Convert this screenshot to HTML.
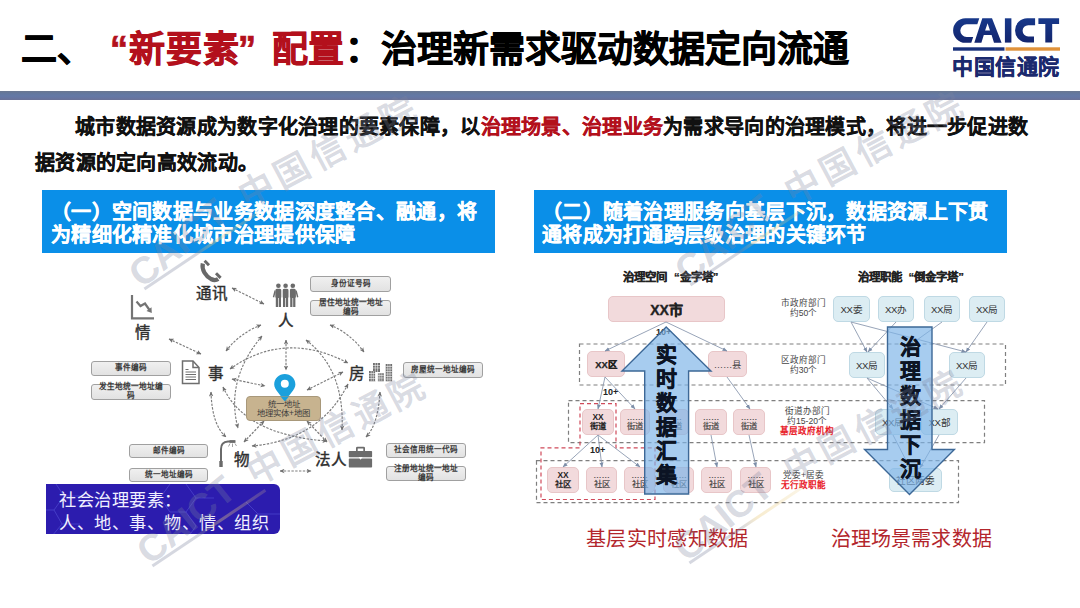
<!DOCTYPE html>
<html lang="zh-CN"><head><meta charset="utf-8">
<style>
*{margin:0;padding:0;box-sizing:border-box}
html,body{width:1080px;height:608px;overflow:hidden;background:#fff}
body{position:relative;font-family:"Liberation Sans",sans-serif;color:#111}
.a{position:absolute;white-space:nowrap}
.red,.t.red{color:#b3101c}
.t{position:absolute;white-space:nowrap;font-size:36px;font-weight:bold;line-height:44px;top:28px;color:#000;-webkit-text-stroke:0.7px currentColor}
#bar{left:0;top:91px;width:1080px;height:8.5px;background:linear-gradient(#6a7890 0%,#64789f 30%,#6479a6 55%,#6775a0 80%,#6b7296 100%)}
.p{position:absolute;white-space:nowrap;font-size:20px;letter-spacing:0.28px;font-weight:bold;line-height:36px;color:#111;-webkit-text-stroke:0.35px currentColor}
.hdr{position:absolute;top:190px;height:63px;background:#0a8fe8;color:#fff;font-weight:bold;font-size:20px;letter-spacing:0.3px;line-height:22.5px;padding-top:11px;white-space:nowrap;-webkit-text-stroke:0.3px #fff}
</style></head>
<body>
<!-- title -->
<div class="t" style="left:21px">二、</div>
<div class="t red" style="left:110px">“</div>
<div class="t red" style="left:129px;letter-spacing:1px">新要素</div>
<div class="t red" style="left:238px">”</div>
<div class="t red" style="left:272px">配置</div>
<div class="t" style="left:345px">：</div>
<div class="t" style="left:381px">治理新需求驱动数据定向流通</div>

<!-- logo -->
<svg class="a" style="left:0;top:0" width="1080" height="100" viewBox="0 0 1080 100">
<defs><linearGradient id="lg" x1="0" y1="0" x2="0" y2="1"><stop offset="0" stop-color="#17388a"/><stop offset="1" stop-color="#13256e"/></linearGradient></defs>
<g fill="url(#lg)" fill-rule="evenodd">
<path d="M979.3,18.2 H965.4 A12.3,12.3 0 0 0 965.4,42.8 H971.3 L973.2,36.9 H966.6 A6.3,6.3 0 0 1 966.6,24.3 H977.3 Z"/>
<path d="M974.3,42.8 L982.3,18.2 H992 L1001.6,42.8 H994 L991.6,35 H983.8 L981.4,42.8 Z M985.1,30.6 H990 L987.6,23.2 Z"/>
<rect x="1004.9" y="18.3" width="6.5" height="24.3"/>
<path d="M1035.1,18.3 H1027.2 A12.15,12.15 0 0 0 1027.2,42.6 H1034 V36.4 H1028.2 A5.6,5.6 0 0 1 1028.2,25.2 H1035.1 Z"/>
<path d="M1038.4,18.3 H1059.1 V23.9 H1052.2 V42.6 H1045.3 V23.9 H1038.4 Z"/>
</g>
<rect x="953" y="47.3" width="51.5" height="3.4" fill="#17307a"/>
<rect x="1005.5" y="47.3" width="54.5" height="3.4" fill="#e0923a"/>
</svg>
<div class="a" style="left:952px;top:54px;font-size:21px;font-weight:bold;color:#1b2a6e;line-height:26px;letter-spacing:0.5px;-webkit-text-stroke:0.4px #1b2a6e">中国信通院</div>

<div id="bar" class="a"></div>

<div class="p" style="left:75px;top:109px">城市数据资源成为数字化治理的要素保障，以<span class="red">治理场景、治理业务</span>为需求导向的治理模式，将进一步促进数</div>
<div class="p" style="left:35px;top:145px">据资源的定向高效流动。</div>

<div class="hdr" style="left:42px;width:453px;padding-left:9px">（一）空间数据与业务数据深度整合、融通，将<br>为精细化精准化城市治理提供保障</div>
<div class="hdr" style="left:534px;width:473px;padding-left:8px">（二）随着治理服务向基层下沉，数据资源上下贯<br>通将成为打通跨层级治理的关键环节</div>

<!-- ============ LEFT DIAGRAM ============ -->
<style>
.gb{position:absolute;background:linear-gradient(#f0f0f0,#e2e2e2);border:1.2px solid #a0a0a0;border-radius:3px;font-size:7.6px;line-height:8.6px;color:#3a3a3a;font-weight:bold;text-align:center;display:flex;align-items:center;justify-content:center;white-space:normal}
.nd{position:absolute;white-space:nowrap;font-size:15.5px;font-weight:normal;color:#2e2e2e;line-height:16px;-webkit-text-stroke:0.4px #2e2e2e}
</style>
<div class="gb" style="left:310px;top:276px;width:81px;height:16px">身份证号码</div>
<div class="gb" style="left:310px;top:300px;width:81px;height:16px;">居住地址统一地址<br>编码</div>
<div class="gb" style="left:403px;top:362px;width:80px;height:16px">房屋统一地址编码</div>
<div class="gb" style="left:91px;top:361px;width:80px;height:15px">事件编码</div>
<div class="gb" style="left:91px;top:384px;width:80px;height:16px;">发生地统一地址编<br>码</div>
<div class="gb" style="left:129px;top:444px;width:79px;height:14px">邮件编码</div>
<div class="gb" style="left:129px;top:468px;width:79px;height:14px">统一地址编码</div>
<div class="gb" style="left:386px;top:443px;width:80px;height:15px">社会信用统一代码</div>
<div class="gb" style="left:386px;top:466px;width:80px;height:15px;">注册地址统一地址<br>编码</div>

<div class="nd" style="left:195.7px;top:285.5px">通讯</div>
<div class="nd" style="left:277.7px;top:312.5px">人</div>
<div class="nd" style="left:134.7px;top:324.5px">情</div>
<div class="nd" style="left:207.7px;top:365.5px">事</div>
<div class="nd" style="left:348.7px;top:365.5px">房</div>
<div class="nd" style="left:233.7px;top:451.5px">物</div>
<div class="nd" style="left:314.7px;top:451.5px">法人</div>

<svg class="a" style="left:0;top:0" width="1080" height="608" viewBox="0 0 1080 608">
<defs>
<marker id="ah" viewBox="0 0 10 10" refX="9" refY="5" markerWidth="5" markerHeight="5" orient="auto-start-reverse" markerUnits="userSpaceOnUse">
<path d="M0,0.5 L10,5 L0,9.5 L2.5,5 Z" fill="#707070"/>
</marker>
</defs>
<g fill="none" stroke="#7c7c7c" stroke-width="1.15" stroke-dasharray="2.4 1.4" marker-start="url(#ah)" marker-end="url(#ah)">
<path d="M232,288 L264,304"/>
<path d="M169,339 L201,354"/>
<path d="M226,351 Q240,333 261,325"/>
<path d="M330,325 Q350,333 364,352"/>
<path d="M286,340 L286,370"/>
<path d="M232,379 L265,386"/>
<path d="M343,372 L307,390"/>
<path d="M264,421 L244,442"/>
<path d="M307,421 L327,442"/>
<path d="M211,392 Q212,425 226,437"/>
<path d="M380,392 Q378,425 366,437"/>
<path d="M280,471 L311,471"/>
<path d="M230,369 Q285,330 348,363"/>
<path d="M262,336 Q225,380 238,428"/>
<path d="M306,340 Q345,370 342,430"/>
<path d="M223,387 Q245,435 327,441"/>
<path d="M348,384 Q320,440 252,446"/>
</g>
<!-- phone -->
<g fill="none" stroke="#686868">
<path d="M202.8,263.5 C201.5,270 205.5,276 211,279 C213.8,280.4 216.2,280.3 218.2,279" stroke-width="4.2"/>
<path d="M204.6,260.8 L209,265.2" stroke-width="3"/>
<path d="M216,273.3 L220.6,277.9" stroke-width="3"/>
</g>
<!-- people -->
<g fill="#6b6b6b">
<circle cx="278.4" cy="285.7" r="2.3"/>
<path d="M275.29999999999995,297.6 V290.6 Q275.29999999999995,288.7 277.0,288.7 H279.79999999999995 Q281.5,288.7 281.5,290.6 V297.6 H281.0 V307 H278.75 V298 H278.04999999999995 V307 H275.79999999999995 V297.6 Z"/>
<circle cx="285.6" cy="285.7" r="2.3"/>
<path d="M282.5,297.6 V290.6 Q282.5,288.7 284.20000000000005,288.7 H287.0 Q288.70000000000005,288.7 288.70000000000005,290.6 V297.6 H288.20000000000005 V307 H285.95000000000005 V298 H285.25 V307 H283.0 V297.6 Z"/>
<circle cx="292.8" cy="285.7" r="2.3"/>
<path d="M289.7,297.6 V290.6 Q289.7,288.7 291.40000000000003,288.7 H294.2 Q295.90000000000003,288.7 295.90000000000003,290.6 V297.6 H295.40000000000003 V307 H293.15000000000003 V298 H292.45 V307 H290.2 V297.6 Z"/>
<path d="M274.6,290 L272.8,297 L274.2,297.4 L275.6,292 Z"/>
<path d="M296.6,290 L298.4,297 L297,297.4 L295.6,292 Z"/>
</g>
<g stroke="#fff" stroke-width="0.9"><path d="M282,288.5 V307.5 M289.2,288.5 V307.5"/></g>
<!-- chart -->
<g fill="none" stroke="#747474" stroke-width="2.2">
<path d="M132,295 V318.3 H154"/>
<path d="M136.5,301.5 L140.5,306 L145,303.5 L149.5,310"/>
</g>
<path d="M146.5,311 L151.8,313 L151.5,307.3 Z" fill="#747474"/>
<!-- document -->
<g fill="none" stroke="#6e6e6e" stroke-width="1.5">
<path d="M182.5,361 H193 L199,367.5 V383.5 H182.5 Z"/>
<path d="M193,361 V367.5 H199"/>
</g>
<g stroke="#6e6e6e" stroke-width="1">
<path d="M185.5,369.5 H188.5 M185.5,372 H196 M185.5,374.5 H196 M185.5,377 H196 M185.5,379.5 H196"/>
</g>
<!-- buildings -->
<g fill="#707070">
<rect x="373" y="363" width="7" height="9"/>
<rect x="369" y="371" width="6.5" height="10.3"/>
<rect x="377.8" y="373.2" width="6" height="8.1"/>
<rect x="385.7" y="364" width="6.4" height="17.3"/>
</g>
<g stroke="#fff" stroke-width="0.55" fill="none">
<path d="M369,373.5 H375.5 M369,376 H375.5 M369,378.5 H375.5 M371.2,371 V381.3 M373.3,371 V381.3"/>
<path d="M373,365.5 H380 M373,368 H380 M375.3,363 V372 M377.6,363 V372"/>
<path d="M377.8,375.5 H383.8 M377.8,378 H383.8 M379.8,373.2 V381.3 M381.8,373.2 V381.3"/>
<path d="M385.7,366.5 H392.1 M385.7,369 H392.1 M385.7,371.5 H392.1 M385.7,374 H392.1 M385.7,376.5 H392.1 M385.7,379 H392.1 M387.8,364 V381.3 M390,364 V381.3"/>
</g>
<path d="M375.5,372 V381.3 M377.8,372 V381.3" stroke="#fff" stroke-width="0.8"/>
<!-- lamp -->
<g fill="none" stroke="#6a6a6a" stroke-width="2">
<path d="M221,465 V449 Q221,442 228,441.5 H235"/>
</g>
<rect x="219.3" y="461" width="3.4" height="6" fill="#6a6a6a"/>
<rect x="229.5" y="440.2" width="6" height="2.6" fill="#6a6a6a"/>
<g stroke="#8a8a8a" stroke-width="0.8"><path d="M230,443.5 L228.5,446.5 M232.5,443.5 V447 M235,443.5 L236.5,446"/></g>
<!-- briefcase -->
<g fill="#6c6c6c">
<path d="M356,451 V448 Q356,446.8 357.5,446.8 H363.5 Q365,446.8 365,448 V451 H363.3 V448.6 H357.7 V451 Z"/>
<rect x="348.8" y="451" width="23.3" height="6.2" rx="0.8"/>
<rect x="348.8" y="458.6" width="23.3" height="9" rx="0.8"/>
</g>
<path d="M358.6,457 h4 l-2,2.8 z" fill="#fff"/>
<!-- pin -->
<path d="M284.8,401.3 C281,395 274.2,390 274.2,384.5 C274.2,378.5 279,374 284.8,374 C290.6,374 295.4,378.5 295.4,384.5 C295.4,390 288.6,395 284.8,401.3 Z" fill="#1ba0dc"/>
<circle cx="284.8" cy="383.8" r="4" fill="#fff"/>
</svg>

<!-- centre brown box (above pin tail) -->
<div class="a" style="left:246px;top:396px;width:75px;height:25px;background:#c7b38f;border:1px solid #a8987a;border-radius:4px;font-size:8.4px;line-height:9.6px;color:#3c3c3c;text-align:center;padding-top:2.5px;white-space:normal">统一地址<br>地理实体+地图</div>
<svg class="a" style="left:0;top:0" width="1080" height="608" viewBox="0 0 1080 608">
<path d="M280.5,396.5 L289,396.5 L284.8,401.5 Z" fill="#1ba0dc"/>
</svg>

<!-- blue element box -->
<div class="a" style="left:46px;top:484px;width:234px;height:50px;background:#2c1cae;border-radius:0 6px 6px 0;overflow:hidden">
<svg width="234" height="50" style="position:absolute;left:0;top:0" fill="none" stroke="#4a44cc" stroke-width="0.8">
<path d="M10,0 L18,12 L8,26 L-6,26 M18,12 L36,12 M8,26 L16,40 L6,52 M16,40 L34,40"/>
<path d="M140,0 L150,14 L140,28 L124,28 L114,14 L124,0 M150,14 L168,14 M140,28 L150,42 L140,56"/>
<path d="M200,18 L212,30 L204,46 M212,30 L234,30"/>
</svg>
<div style="position:absolute;left:13px;top:4.5px;font-size:17.2px;line-height:23.3px;color:#f0f0ff;white-space:nowrap;letter-spacing:0.55px">社会治理要素：<br>人、地、事、物、情、组织</div>
</div>

<!-- ============ RIGHT DIAGRAM ============ -->
<style>
.pk{position:absolute;background:#f2dadc;border:1px solid #e8c6c8;border-radius:5px;color:#222;text-align:center;display:flex;align-items:center;justify-content:center;white-space:normal}
.bl{position:absolute;background:#dcedf3;border:1px solid #bfd9e4;border-radius:5px;color:#333;text-align:center;display:flex;align-items:center;justify-content:center;white-space:nowrap;font-size:9.6px;letter-spacing:-0.2px}
.sm{font-size:8.4px;line-height:9.5px}
.st{top:270px;font-size:11.4px;font-weight:bold;color:#222;line-height:14px;-webkit-text-stroke:0.25px #222}
.lb{position:absolute;white-space:nowrap;font-size:8.6px;line-height:9.9px;color:#444;text-align:center}
</style>
<div class="a st" style="left:623px">治理空间</div><div class="a st" style="left:674px">“金字塔”</div>
<div class="a st" style="left:857.5px">治理职能</div><div class="a st" style="left:908.5px">“倒金字塔”</div>

<svg class="a" style="left:0;top:0" width="1080" height="608" viewBox="0 0 1080 608">
<g fill="none" stroke="#7f7f7f" stroke-width="1.2" stroke-dasharray="4 3">
<rect x="579.5" y="344" width="426" height="41"/>
<rect x="568.5" y="400.7" width="416" height="42"/>
<rect x="536.5" y="460.7" width="422" height="42"/>
</g>
<path d="M580,403.6 H616 V447.9 H655 V499.5 H541 V447.9 H580 Z" fill="none" stroke="#d04a5a" stroke-width="1.2" stroke-dasharray="4 3"/>
</svg>

<div class="pk" style="left:608px;top:296px;width:117px;height:26px;font-size:14px;font-weight:bold;-webkit-text-stroke:0.4px #222">XX市</div>
<div class="pk" style="left:587px;top:351px;width:38px;height:26px;font-size:9.4px;font-weight:bold;-webkit-text-stroke:0.25px #222">XX区</div>
<div class="pk" style="left:708px;top:351px;width:39px;height:26px;font-size:9.4px;color:#444">……县</div>

<div class="pk sm" style="left:582px;top:409px;width:32px;height:26px;font-weight:bold">XX<br>街道</div>
<div class="pk sm" style="left:620px;top:409px;width:30px;height:26px;color:#3a3a3a;-webkit-text-stroke:0.15px #3a3a3a">……<br>街道</div>
<div class="pk sm" style="left:658px;top:409px;width:31px;height:26px;color:#3a3a3a;-webkit-text-stroke:0.15px #3a3a3a">……<br>街道</div>
<div class="pk sm" style="left:695px;top:409px;width:32px;height:26px;color:#3a3a3a;-webkit-text-stroke:0.15px #3a3a3a">……<br>街道</div>
<div class="pk sm" style="left:733px;top:409px;width:32px;height:26px;color:#3a3a3a;-webkit-text-stroke:0.15px #3a3a3a">……<br>街道</div>

<div class="pk sm" style="left:547px;top:467px;width:32px;height:26px;font-weight:bold">XX<br>社区</div>
<div class="pk sm" style="left:586px;top:467px;width:31px;height:26px;color:#3a3a3a;-webkit-text-stroke:0.15px #3a3a3a">……<br>社区</div>
<div class="pk sm" style="left:624px;top:467px;width:31px;height:26px;color:#3a3a3a;-webkit-text-stroke:0.15px #3a3a3a">……<br>社区</div>
<div class="pk sm" style="left:663px;top:467px;width:31px;height:26px;color:#3a3a3a;-webkit-text-stroke:0.15px #3a3a3a">……<br>社区</div>
<div class="pk sm" style="left:701px;top:467px;width:31px;height:26px;color:#3a3a3a;-webkit-text-stroke:0.15px #3a3a3a">……<br>社区</div>
<div class="pk sm" style="left:740px;top:467px;width:31px;height:26px;color:#3a3a3a;-webkit-text-stroke:0.15px #3a3a3a">……<br>社区</div>

<div class="bl" style="left:833px;top:296px;width:37px;height:26px">XX委</div>
<div class="bl" style="left:878px;top:296px;width:36px;height:26px">XX办</div>
<div class="bl" style="left:924px;top:296px;width:36px;height:26px">XX局</div>
<div class="bl" style="left:969px;top:296px;width:36px;height:26px">XX局</div>
<div class="bl" style="left:849px;top:352px;width:36px;height:26px">XX局</div>
<div class="bl" style="left:949px;top:352px;width:36px;height:26px">XX局</div>
<div class="bl" style="left:875px;top:409px;width:36px;height:26px">XX局</div>
<div class="bl" style="left:921px;top:409px;width:37px;height:26px">XX部</div>
<div class="bl" style="left:889px;top:468px;width:53px;height:24px">社区两委</div>

<div class="lb" style="left:781px;top:299px">市政府部门<br>约50个</div>
<div class="lb" style="left:781px;top:356px">区政府部门<br>约30个</div>
<div class="lb" style="left:780px;top:407px">街道办部门<br>约15-20个<br><span style="color:#e8202a;font-weight:bold">基层政府机构</span></div>
<div class="lb" style="left:781px;top:471px">党委+居委<br><span style="color:#e8202a;font-weight:bold">无行政职能</span></div>

<svg class="a" style="left:0;top:0" width="1080" height="608" viewBox="0 0 1080 608">
<defs>
<marker id="bh" viewBox="0 0 10 10" refX="9" refY="5" markerWidth="5" markerHeight="5" orient="auto" markerUnits="userSpaceOnUse">
<path d="M0,1 L10,5 L0,9 Z" fill="#7d8ea8"/>
</marker>
</defs>
<g fill="none" stroke="#8c9ab0" stroke-width="0.9" marker-end="url(#bh)">
<path d="M666,322 L605,351"/>
<path d="M666,322 L727,351"/>
<path d="M605,377 L598,409"/>
<path d="M605,377 L635,409"/>
<path d="M727,377 L750,409"/>
<path d="M598,435 L563,467"/>
<path d="M598,435 L602,467"/>
<path d="M598,435 L640,467"/>
<path d="M711,435 L717,467"/>
<path d="M749,435 L756,467"/>
<path d="M851,322 L867,352"/>
<path d="M851,322 L966,352"/>
<path d="M896,322 L868,352"/>
<path d="M987,322 L966,352"/>
<path d="M942,322 L910,345"/>
<path d="M867,378 L893,409"/>
<path d="M966,378 L939,409"/>
<path d="M867,378 L938,409"/>
<path d="M893,435 L910,468"/>
<path d="M939,435 L920,468"/>
</g>
</svg>
<div class="a" style="left:656px;top:327px;font-size:9px;font-weight:bold;color:#222">10+</div>
<div class="a" style="left:603px;top:387px;font-size:9px;font-weight:bold;color:#222">10+</div>
<div class="a" style="left:590px;top:445px;font-size:9px;font-weight:bold;color:#222">10+</div>

<!-- big arrows -->
<svg class="a" style="left:0;top:0" width="1080" height="608" viewBox="0 0 1080 608">
<path d="M666.2,327 L711,371 L688.6,371 L688.6,494 L644.7,494 L644.7,371 L622,371 Z" fill="rgba(125,180,232,0.68)" stroke="#3d6897" stroke-width="1.4" stroke-linejoin="miter"/>
<path d="M887.5,327 L932,327 L932,449.5 L954.4,449.5 L909.5,494.4 L864.6,449.5 L887.5,449.5 Z" fill="rgba(125,180,232,0.68)" stroke="#3d6897" stroke-width="1.4"/>
</svg>
<div class="a" style="left:656px;top:343px;width:22px;font-size:21px;font-weight:bold;line-height:24.1px;color:#0c1424;white-space:normal;-webkit-text-stroke:0.5px #0c1424">实时数据汇集</div>
<div class="a" style="left:900px;top:335px;width:22px;font-size:21px;font-weight:bold;line-height:24.4px;color:#0c1424;white-space:normal;-webkit-text-stroke:0.5px #0c1424">治理数据下沉</div>

<div class="a" style="left:586px;top:525.5px;font-size:20px;line-height:26px;color:#b3262c;letter-spacing:0.35px">基层实时感知数据</div>
<div class="a" style="left:830.5px;top:525.5px;font-size:20px;line-height:26px;color:#b3262c;letter-spacing:0.2px">治理场景需求数据</div>

<!-- watermarks -->
<style>
.wm{position:absolute;width:0;height:0;transform-origin:0 0;transform:rotate(-28deg);color:rgba(125,132,158,0.3);pointer-events:none}
.wm span{position:absolute;white-space:nowrap}
.wm .c{font-size:38px;line-height:38px;left:-151px;top:-1.5px;font-weight:bold;transform-origin:14px 18.4px;transform:rotate(-11deg);letter-spacing:-0.5px}
.wm .u{left:-146px;width:136px;top:33px;height:2.6px;transform-origin:0 0;transform:rotate(-5.8deg);background:linear-gradient(90deg,rgba(125,132,158,0.32) 45%,rgba(235,205,130,0.38) 60%,rgba(235,205,130,0.2))}
.wm .z{font-size:35px;line-height:40px;left:-17.5px;top:-20px;letter-spacing:5px;font-weight:bold}
</style>
<div class="wm" style="left:257px;top:190px"><span class="c">CAICT</span><span class="u"></span><span class="z">中国信通院</span></div>
<div class="wm" style="left:803px;top:186px"><span class="c">CAICT</span><span class="u"></span><span class="z">中国信通院</span></div>
<div class="wm" style="left:265px;top:467px"><span class="c">CAICT</span><span class="u"></span><span class="z">中国信通院</span></div>
<div class="wm" style="left:802px;top:464px"><span class="c">CAICT</span><span class="u"></span><span class="z">中国信通院</span></div>

</body></html>
